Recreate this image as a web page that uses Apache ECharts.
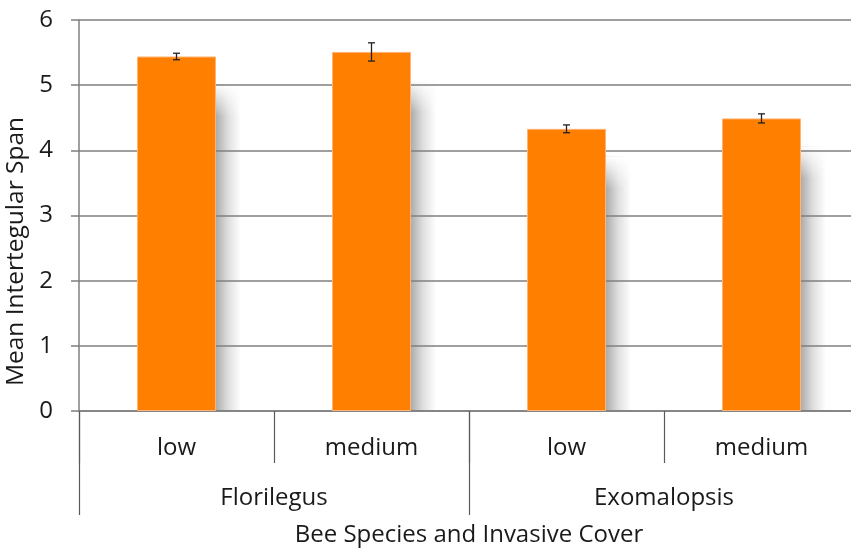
<!DOCTYPE html>
<html><head><meta charset="utf-8">
<script src="https://cdn.jsdelivr.net/npm/echarts@6/dist/echarts.min.js"></script>
<style>html,body{margin:0;padding:0;background:#fff}#c{width:851px;height:548px}</style>
</head><body><div id="c"></div>
<script>
var subCategories = ['low', 'medium', 'low', 'medium'];
var groups = ['Florilegus', 'Exomalopsis'];
var means = [5.44, 5.51, 4.33, 4.49];
var errors = [0.05, 0.14, 0.06, 0.07];
var yTicks = [0, 1, 2, 3, 4, 5, 6];

var font = 'Open Sans';
var txt = '#1a1a1a';
var chart = echarts.init(document.getElementById('c'));
var errData = means.map(function (m, i) { return [i, m - errors[i], m + errors[i]]; });
var shadowData = means.map(function (m, i) { return [i, m]; });
var BAR_W = 79;
chart.setOption({
  animation: false,
  grid: { left: 79, top: 20, width: 780, bottom: 137, containLabel: false, outerBoundsMode: 'none' },
  xAxis: [{
    type: 'category', data: subCategories, position: 'bottom', z: 1.5,
    axisLine: { show: true, lineStyle: { color: '#7f7f7f', width: 1.5 } },
    axisTick: { show: true, length: 52, lineStyle: { color: '#5a5a5a', width: 1.2 } },
    axisLabel: { margin: 25, fontSize: 24, color: txt, fontFamily: font }
  }, {
    type: 'category', data: groups, position: 'bottom', z: 1.5,
    axisLine: { show: false },
    axisTick: { show: true, length: 104, lineStyle: { color: '#5a5a5a', width: 1.2 } },
    axisLabel: { margin: 75, fontSize: 24, color: txt, fontFamily: font },
    name: 'Bee Species and Invasive Cover', nameLocation: 'middle', nameGap: 112,
    nameTextStyle: { fontSize: 24, color: txt, fontFamily: font }
  }],
  yAxis: {
    type: 'value', min: 0, max: 6, interval: 1, z: 1.5,
    name: 'Mean Intertegular Span', nameLocation: 'middle', nameGap: 44,
    nameTextStyle: { fontSize: 24.5, color: txt, fontFamily: font, padding: [0, 72, 0, 0] },
    axisLine: { show: true, lineStyle: { color: '#7f7f7f', width: 1.5 } },
    axisTick: { show: true, length: 8, lineStyle: { color: '#7f7f7f', width: 1.5 } },
    axisLabel: { margin: 26, fontSize: 24, color: txt, fontFamily: font,
      formatter: function (v) { return yTicks.indexOf(v) >= 0 ? String(v) : ''; } },
    splitLine: { show: true, lineStyle: { color: '#7f7f7f', width: 1.5 } }
  },
  series: [{
    type: 'custom', xAxisIndex: 0, data: shadowData, z: 1,
    renderItem: function (params, api) {
      var i = api.value(0);
      var top = api.coord([i, api.value(1)]);
      var base = api.coord([i, 0]);
      var xr = top[0] + BAR_W / 2;
      var y0 = top[1] + 28;
      return { type: 'group', children: [
        { type: 'rect', shape: { x: xr, y: y0, width: 25, height: base[1] - y0 },
          style: { fill: new echarts.graphic.LinearGradient(0, 0, 1, 0, [
            { offset: 0, color: 'rgba(0,0,0,0.32)' },
            { offset: 0.5, color: 'rgba(0,0,0,0.12)' },
            { offset: 1, color: 'rgba(0,0,0,0)' }]) } },
        { type: 'rect', shape: { x: xr, y: y0, width: 25, height: 32 },
          style: { fill: new echarts.graphic.LinearGradient(0, 0, 0, 1, [
            { offset: 0, color: 'rgba(255,255,255,1)' },
            { offset: 1, color: 'rgba(255,255,255,0)' }]) } }
      ]};
    }
  }, {
    type: 'bar', data: means, barWidth: BAR_W, xAxisIndex: 0,
    itemStyle: { color: '#FF8000', borderColor: '#FFB377', borderWidth: 1 },
    z: 2
  }, {
    type: 'custom', xAxisIndex: 0, data: errData, z: 5,
    renderItem: function (params, api) {
      var x = api.value(0);
      var lo = api.coord([x, api.value(1)]);
      var hi = api.coord([x, api.value(2)]);
      var hw = 3.5;
      var st = { stroke: '#222', lineWidth: 1.3 };
      return { type: 'group', children: [
        { type: 'line', shape: { x1: lo[0], y1: lo[1], x2: hi[0], y2: hi[1] }, style: st },
        { type: 'line', shape: { x1: lo[0] - hw, y1: lo[1], x2: lo[0] + hw, y2: lo[1] }, style: st },
        { type: 'line', shape: { x1: hi[0] - hw, y1: hi[1], x2: hi[0] + hw, y2: hi[1] }, style: st }
      ]};
    }
  }]
});
</script></body></html>
